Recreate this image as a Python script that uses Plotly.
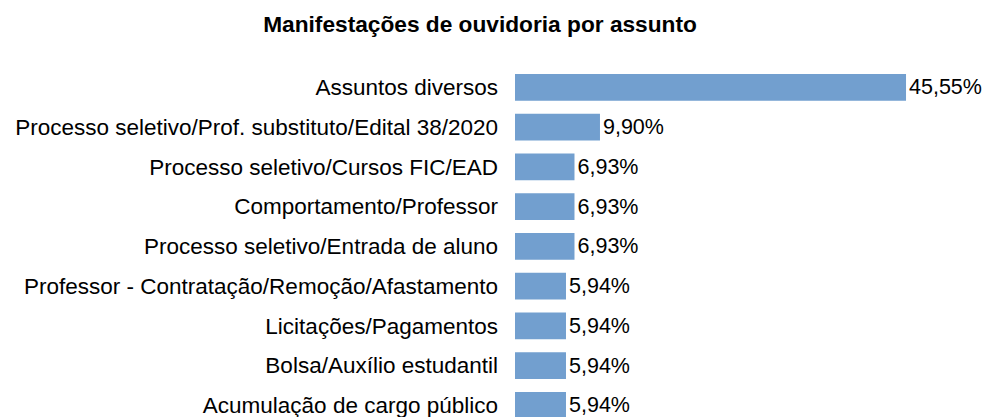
import plotly.graph_objects as go

FONT = "Liberation Sans Narrow, Liberation Sans, Arial, sans-serif"
BAR_COLOR = "#729fcf"

categories = [
    "Assuntos diversos",
    "Processo seletivo/Prof. substituto/Edital 38/2020",
    "Processo seletivo/Cursos FIC/EAD",
    "Comportamento/Professor",
    "Processo seletivo/Entrada de aluno",
    "Professor - Contratação/Remoção/Afastamento",
    "Licitações/Pagamentos",
    "Bolsa/Auxílio estudantil",
    "Acumulação de cargo público",
]
percentages = [45.55, 9.90, 6.93, 6.93, 6.93, 5.94, 5.94, 5.94, 5.94]
labels = [f"{v:.2f}%".replace(".", ",") for v in percentages]

fig = go.Figure(
    go.Bar(
        x=percentages,
        y=list(range(len(categories))),
        orientation="h",
        marker_color=BAR_COLOR,
        marker_line_width=0,
        text=labels,
        textposition="outside",
        textfont={"family": FONT, "size": 21.5, "color": "#000000"},
        cliponaxis=False,
        width=0.67,
    )
)

# the page body adds an 8px offset, so the figure is sized to fill the rest
fig.update_layout(
    width=983,
    height=409,
    paper_bgcolor="#ffffff",
    plot_bgcolor="#ffffff",
    margin={"l": 507, "r": 0, "t": 52, "b": 0, "autoexpand": False},
    showlegend=False,
    font={"family": FONT, "color": "#000000"},
    title={
        "text": "<b>Manifestações de ouvidoria por assunto</b>",
        "x": 0.4802,
        "xanchor": "center",
        "y": 0.9613,
        "yanchor": "middle",
        "font": {"family": FONT, "size": 22.7, "color": "#000000"},
    },
)
fig.update_xaxes(
    range=[0, 55.45],
    visible=False,
    showgrid=False,
    zeroline=False,
    automargin=False,
)
fig.update_yaxes(
    range=[8.294, -0.687],
    tickmode="array",
    tickvals=list(range(len(categories))),
    ticktext=categories,
    tickfont={"family": FONT, "size": 22.5, "color": "#000000"},
    ticklabelstandoff=16,
    ticklabeloverflow="allow",
    showgrid=False,
    zeroline=False,
    showline=False,
    ticks="",
    automargin=False,
)

fig.write_html("out.html")
